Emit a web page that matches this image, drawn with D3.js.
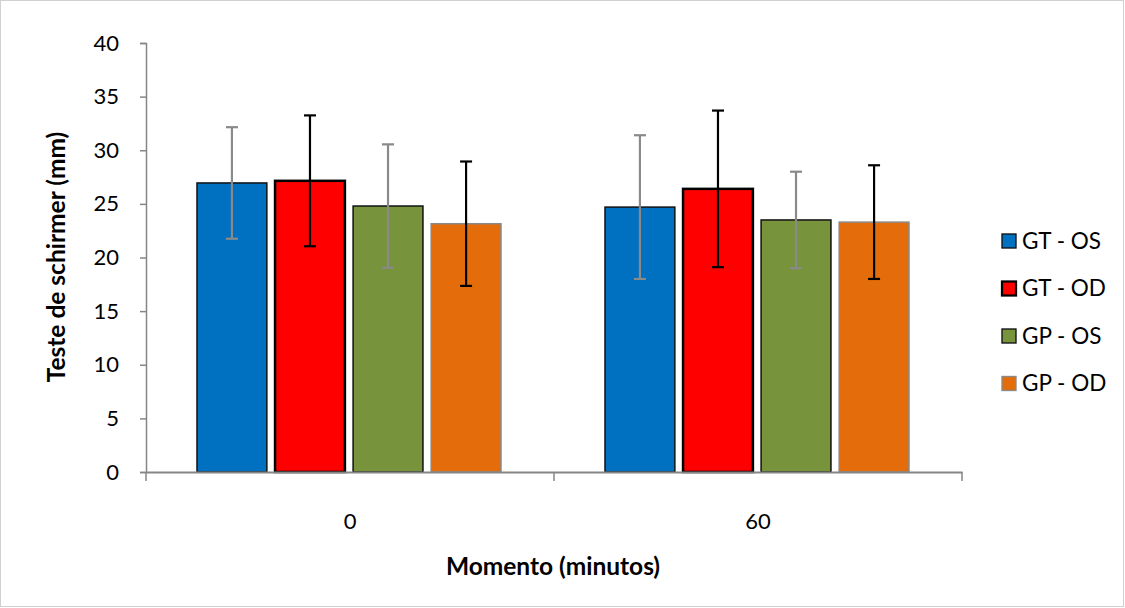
<!DOCTYPE html>
<html>
<head>
<meta charset="utf-8">
<script src="https://cdn.jsdelivr.net/npm/d3@7/dist/d3.min.js"></script>
<style>
  html, body { margin: 0; padding: 0; background: #fff; }
  svg { display: block; }
  text { font-family: Lato, "Open Sans", "Liberation Sans", sans-serif; fill: #000; }
</style>
</head>
<body>
<svg id="chart" width="1125" height="608"></svg>
<script>
// Schirmer tear test by moment and group
const moments = ["0", "60"];
const seriesNames = ["GT - OS", "GT - OD", "GP - OS", "GP - OD"];
const meanGTOS = [26.95, 24.7];
const meanGTOD = [27.15, 26.4];
const meanGPOS = [24.8, 23.5];
const meanGPOD = [23.15, 23.3];
const sdGTOS = [5.2, 6.7];
const sdGTOD = [6.1, 7.3];
const sdGPOS = [5.75, 4.5];
const sdGPOD = [5.8, 5.3];
const yTicks = [0, 5, 10, 15, 20, 25, 30, 35, 40];

const fills = ["#0070C0", "#FF0000", "#77933C", "#E46C0A"];
const strokes = ["#111", "#000", "#111", "#8a8a8a"];
const strokeW = [1.5, 2.5, 1.5, 1.5];
const errColors = ["#8a8a8a", "#000", "#8a8a8a", "#000"];

const means = [meanGTOS, meanGTOD, meanGPOS, meanGPOD];
const sds = [sdGTOS, sdGTOD, sdGPOS, sdGPOD];

const svg = d3.select("#chart");

// outer frame
svg.append("rect").attr("x", 0.5).attr("y", 0.5).attr("width", 1123).attr("height", 606)
  .attr("fill", "#fff").attr("stroke", "#d0d0d0");

const plotLeft = 146, plotRight = 962, plotTop = 43, plotBottom = 472;

const x0 = d3.scaleBand().domain(moments).range([plotLeft, plotRight]).paddingInner(0).paddingOuter(0);
const x1 = d3.scaleBand().domain(seriesNames).range([51, x0.bandwidth() - 53]).paddingInner(0.105);
const y = d3.scaleLinear().domain([0, 40]).range([plotBottom, plotTop]);

const axisColor = "#868686";
const labelFont = 22;

// y axis
const yAxis = svg.append("g").attr("transform", `translate(${plotLeft},0)`)
  .call(d3.axisLeft(y).tickValues(yTicks).tickSize(6).tickPadding(21));
yAxis.select(".domain").attr("stroke", axisColor).attr("stroke-width", 1.5);
yAxis.selectAll(".tick line").attr("stroke", axisColor).attr("stroke-width", 1.5);
yAxis.selectAll(".tick text").attr("font-size", labelFont).attr("font-family", "Lato, 'Open Sans', sans-serif");

// bars
const groups = svg.append("g").selectAll("g")
  .data(moments).join("g")
  .attr("transform", d => `translate(${x0(d)},0)`);

seriesNames.forEach((name, si) => {
  groups.append("rect")
    .attr("x", () => x1(name))
    .attr("y", (d, i) => y(means[si][i]))
    .attr("width", x1.bandwidth())
    .attr("height", (d, i) => y(0) - y(means[si][i]))
    .attr("fill", fills[si])
    .attr("stroke", strokes[si])
    .attr("stroke-width", strokeW[si]);
});

// x axis (drawn over the bar bottoms)
const xAxis = svg.append("g").attr("transform", `translate(0,${plotBottom})`)
  .call(d3.axisBottom(x0).tickSize(0).tickPadding(41));
xAxis.select(".domain").attr("stroke", axisColor).attr("stroke-width", 2);
xAxis.selectAll(".tick text").attr("font-size", labelFont).attr("font-family", "Lato, 'Open Sans', sans-serif");
// category boundary ticks
const bounds = [plotLeft, x0("60"), plotRight];
svg.append("g").selectAll("line").data(bounds).join("line")
  .attr("x1", d => d).attr("x2", d => d)
  .attr("y1", plotBottom).attr("y2", plotBottom + 9)
  .attr("stroke", axisColor).attr("stroke-width", 1.5);

// error bars
const cap = 6;
seriesNames.forEach((name, si) => {
  const eg = groups.append("g").attr("stroke", errColors[si]).attr("stroke-width", 2.2);
  const cx = x1(name) + x1.bandwidth() / 2;
  eg.append("line")
    .attr("x1", cx).attr("x2", cx)
    .attr("y1", (d, i) => y(means[si][i] + sds[si][i]))
    .attr("y2", (d, i) => y(means[si][i] - sds[si][i]));
  [1, -1].forEach(sign => {
    eg.append("line")
      .attr("x1", cx - cap).attr("x2", cx + cap)
      .attr("y1", (d, i) => y(means[si][i] + sign * sds[si][i]))
      .attr("y2", (d, i) => y(means[si][i] + sign * sds[si][i]));
  });
});

// axis titles
svg.append("text")
  .attr("transform", `translate(65,257) rotate(-90)`)
  .attr("text-anchor", "middle")
  .attr("font-size", 24.5).attr("font-weight", "bold")
  .text("Teste de schirmer (mm)");

svg.append("text")
  .attr("x", 553).attr("y", 575)
  .attr("text-anchor", "middle")
  .attr("font-size", 24.5).attr("font-weight", "bold")
  .text("Momento (minutos)");

// legend
const legend = svg.append("g").attr("transform", "translate(1002,234)");
const items = legend.selectAll("g").data(seriesNames).join("g")
  .attr("transform", (d, i) => `translate(0,${i * 47.5})`);
items.append("rect")
  .attr("width", 14).attr("height", 14)
  .attr("fill", (d, i) => fills[i])
  .attr("stroke", (d, i) => strokes[i])
  .attr("stroke-width", (d, i) => strokeW[i] * 0.9);
items.append("text")
  .attr("x", 20).attr("y", 7).attr("dy", "0.35em")
  .attr("font-size", 22.5)
  .text(d => d);
</script>
</body>
</html>
